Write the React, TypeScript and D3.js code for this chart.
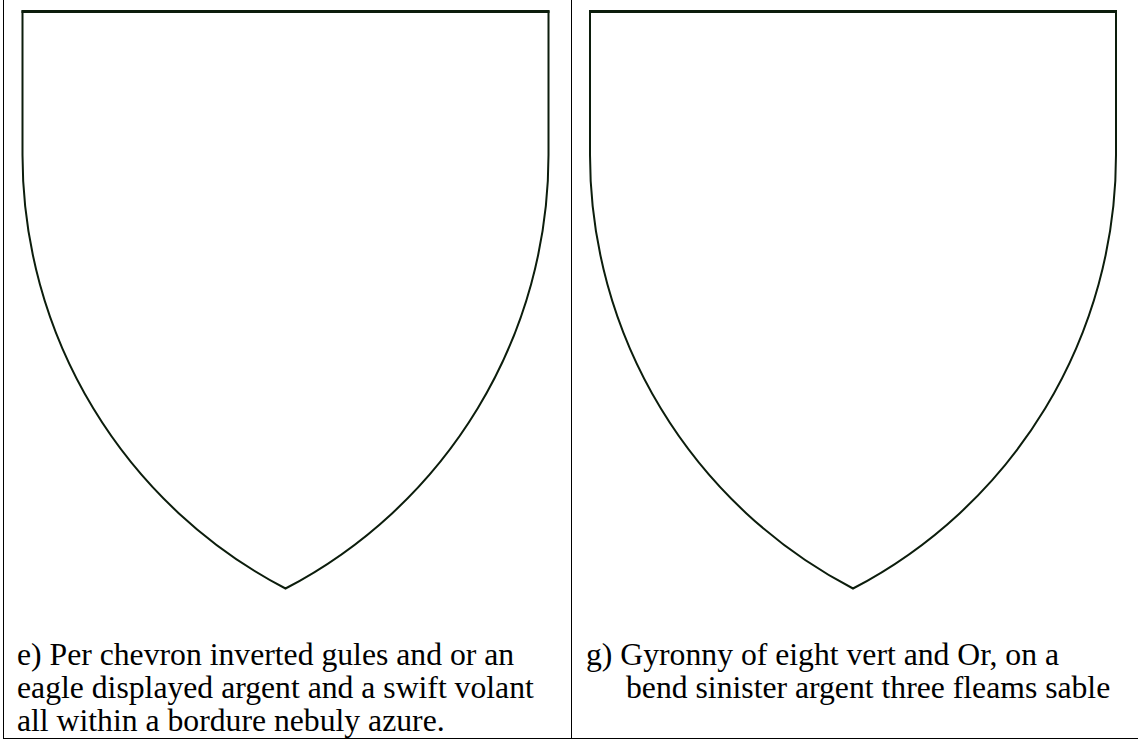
import React from "react";
import * as d3 from "d3";

// ---- data ----
const panelIds: string[] = ["e", "g"];
const captionLines: string[][] = [
  [
    "e) Per chevron inverted gules and or an",
    "eagle displayed argent and a swift volant",
    "all within a bordure nebuly azure.",
  ],
  ["g) Gyronny of eight vert and Or, on a", "bend sinister argent three fleams sable"],
];
const captionIndent: number[][] = [
  [0, 0, 0],
  [0, 1, 0],
];

const W = 1138;
const H = 740;
const FONT = "Liberation Serif, Times New Roman, Times, serif";

export default function App() {
  const panelX = d3.scaleBand<string>().domain(panelIds).range([3.5, 3.5 + 568 * 2]).paddingInner(0).paddingOuter(0);

  const shieldPath = (x0: number) => {
    const left = x0 + 19;
    const right = x0 + 545;
    const top = 11.5;
    const shoulder = 155;
    const tipX = (left + right) / 2;
    const tipY = 588.5;
    const half = (right - left) / 2;
    const dy = tipY - shoulder;
    const R = (half * half + dy * dy) / (2 * half);
    const p = d3.path();
    p.moveTo(left, top);
    p.lineTo(right, top);
    p.lineTo(right, shoulder);
    const c1x = right - R;
    const a1e = Math.atan2(tipY - shoulder, tipX - c1x);
    p.arc(c1x, shoulder, R, 0, a1e, false);
    const c2x = left + R;
    const a2s = Math.atan2(tipY - shoulder, tipX - c2x);
    p.arc(c2x, shoulder, R, a2s, Math.PI, false);
    p.closePath();
    return p.toString();
  };

  const lineY = d3.scaleLinear().domain([0, 1]).range([665, 698]);

  return (
    <svg width={W} height={H} style={{ position: "absolute", left: 0, top: 0, background: "#fff" }}>
      <line x1={3.5} y1={0} x2={3.5} y2={739} stroke="#000" strokeWidth={1} />
      <line x1={571.5} y1={0} x2={571.5} y2={739} stroke="#000" strokeWidth={1} />
      <line x1={3} y1={738.5} x2={W} y2={738.5} stroke="#000" strokeWidth={1} />
      {panelIds.map((id, i) => {
        const x0 = panelX(id)!;
        const ox = i === 0 ? x0 : x0 - 0.5;
        return (
          <g key={id}>
            <path d={shieldPath(ox)} fill="none" stroke="#0c1d0c" strokeWidth={2} strokeLinejoin="miter" />
            <line x1={ox + 18} y1={11.5} x2={ox + 546} y2={11.5} stroke="#0c1d0c" strokeWidth={3} />
            {captionLines[i].map((t, j) => (
              <text
                key={j}
                x={ox + (i === 0 ? 13.5 : 15) + captionIndent[i][j] * 40}
                y={lineY(j)}
                style={{ fontFamily: FONT, fontSize: "31.7px" }}
                fill="#000"
              >
                {t}
              </text>
            ))}
          </g>
        );
      })}
    </svg>
  );
}
